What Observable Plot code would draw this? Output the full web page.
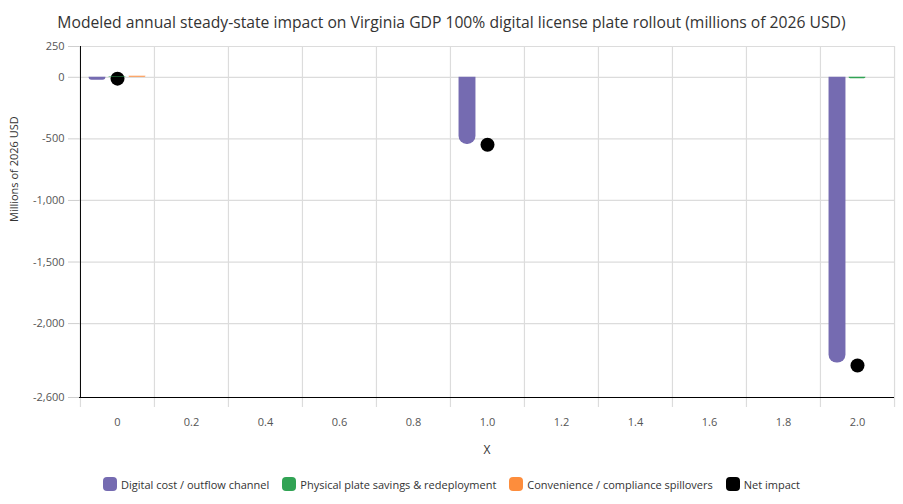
<!DOCTYPE html>
<html>
<head>
<meta charset="utf-8">
<script src="https://cdn.jsdelivr.net/npm/d3@7"></script>
<script src="https://cdn.jsdelivr.net/npm/@observablehq/plot@0.6"></script>
<style>
  html, body { margin: 0; padding: 0; background: #fff; }
  body { width: 903px; height: 504px; overflow: hidden; font-family: "Open Sans", "Noto Sans", sans-serif; }
  #title { height: 40px; line-height: 44px; text-align: center; font-size: 15.7px; color: #333; white-space: nowrap; }
  #legend { height: 44px; box-sizing: border-box; padding-top: 17px; display: flex; justify-content: center; gap: 13px; font-size: 11px; color: #333; }
  .item { display: flex; align-items: center; height: 14px; gap: 4px; }
  .sw { width: 14px; height: 14px; border-radius: 4px; display: inline-block; }
</style>
</head>
<body>
<div id="title">Modeled annual steady-state impact on Virginia GDP 100% digital license plate rollout (millions of 2026 USD)</div>
<div id="chart"></div>
<div id="legend"></div>
<script>
const categories = ["0", "0.2", "0.4", "0.6", "0.8", "1.0", "1.2", "1.4", "1.6", "1.8", "2.0"];
const positions = ["0", "1.0", "2.0"];
const seriesNames = ["Digital cost / outflow channel", "Physical plate savings & redeployment", "Convenience / compliance spillovers", "Net impact"];
const digitalCost = [-24, -545, -2320];
const physicalSavings = [5, 0, -12];
const convenience = [8, 0, 0];
const netImpact = [-11, -548, -2340];
const yTicks = [250, 0, -500, -1000, -1500, -2000, -2600];
const colors = ["#756bb1", "#31a354", "#fd8d3c", "#000000"];

const W = 903, H = 420, mL = 79, mR = 9, mT = 6, mB = 63;
const bw = (W - mL - mR) / categories.length;
const barW = 17;
const inset = (bw - barW) / 2;

const rows = (vals) => positions.map((p, i) => ({x: p, v: vals[i]}));
const fmt = (v) => v.toLocaleString("en-US");
const fontFamily = '"Open Sans", "Noto Sans", sans-serif';

function bar(vals, color, dx) {
  return Plot.barY(rows(vals).filter(d => d.v !== 0), {
    x: "x", y1: 0, y2: "v", fill: color, dx,
    insetLeft: inset, insetRight: inset, ry2: 8
  });
}

const chart = Plot.plot({
  width: W, height: H,
  marginLeft: mL, marginRight: mR, marginTop: mT, marginBottom: mB,
  style: {fontFamily, fontSize: "11px", background: "white", overflow: "visible"},
  x: {type: "band", domain: categories, padding: 0, axis: null},
  y: {domain: [-2600, 250], axis: null},
  marks: [
    Plot.ruleY(yTicks.filter(t => t !== -2600), {stroke: "#dcdcdc", strokeWidth: 1.2}),
    Plot.ruleX(categories, {x: d => d, dx: -bw / 2, stroke: "#dcdcdc", strokeWidth: 1.2, insetBottom: -10}),
    Plot.ruleX([categories[categories.length - 1]], {x: d => d, dx: bw / 2, stroke: "#dcdcdc", strokeWidth: 1.2, insetBottom: -10}),
    Plot.ruleX([categories[0]], {x: d => d, dx: -bw / 2, stroke: "#000", strokeWidth: 1}),
    Plot.ruleY([-2600], {stroke: "#000", strokeWidth: 1}),
    Plot.axisY({ticks: yTicks, tickFormat: fmt, tickSize: 11, tickPadding: 4, stroke: "#cfcfcf", color: "#555", label: null, fontSize: 11}),
    Plot.axisX({tickSize: 0, tickPadding: 21, color: "#555", label: null, fontSize: 11}),
    Plot.text(["X"], {frameAnchor: "bottom", dy: 53, lineAnchor: "middle", fill: "#333", fontSize: 12}),
    Plot.text(["Millions of 2026 USD"], {frameAnchor: "left", dx: -65, rotate: -90, fill: "#333", fontSize: 11}),
    Plot.dot(rows(netImpact), {x: "x", y: "v", r: 7, fill: colors[3], stroke: "none"}),
    bar(digitalCost, colors[0], -20),
    bar(physicalSavings, colors[1], 0),
    bar(convenience, colors[2], 20)
  ]
});
document.getElementById("chart").appendChild(chart);

const legend = document.getElementById("legend");
seriesNames.forEach((name, i) => {
  const item = document.createElement("div");
  item.className = "item";
  const sw = document.createElement("span");
  sw.className = "sw";
  sw.style.background = colors[i];
  const label = document.createElement("span");
  label.textContent = name;
  item.appendChild(sw);
  item.appendChild(label);
  legend.appendChild(item);
});
</script>
</body>
</html>
